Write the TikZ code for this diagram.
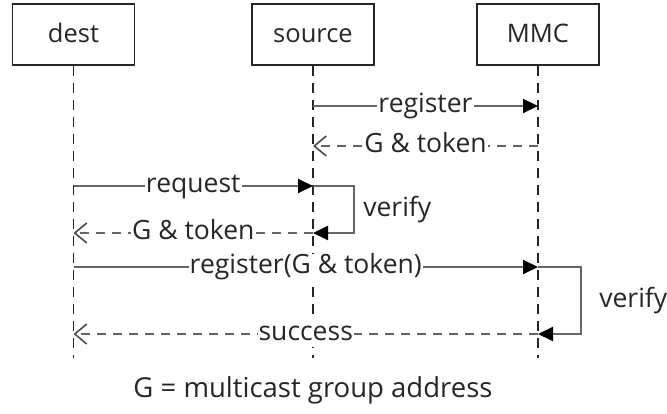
\documentclass[tikz,border=0pt]{standalone}
\usepackage{fontspec}
\setmainfont{Open Sans}
\usepackage{xcolor}
\usetikzlibrary{positioning}
\usetikzlibrary{arrows.meta}

\begin{document}
\begin{tikzpicture}[
      x=1pt, y=-1pt,
      type-actor/.style={rectangle, draw=black!85, line width=1.5pt, minimum width=122pt, minimum height=61pt, text=black!85, text height=17pt, text depth=0pt, font=\fontsize{25.5}{28}\selectfont},
      type-life/.style={draw=black!85, line width=1.4pt, dash pattern=on 10pt off 7pt},
      type-call/.style={draw=black!60, line width=2pt, -{Triangle[length=15pt,width=14pt,color=black]}},
      type-reply/.style={draw=black!60, line width=1.6pt, dash pattern=on 9pt off 7pt, -{Straight Barb[length=12pt,width=20pt,color=black!70]}},
      type-label/.style={fill=white, inner xsep=1pt, inner ysep=0.5pt, text=black!85, text height=19.5pt, text depth=5.5pt, font=\fontsize{26.5}{30}\selectfont},
      type-note/.style={text=black!85, font=\fontsize{26.5}{30}\selectfont}
    ]
      \useasboundingbox (0,0) rectangle (667,414);

      % actors and lifelines
      \node[type-actor] (dest) at (73.5,34.5) {dest};
      \node[type-actor] (source) at (313,34.5) {source};
      \node[type-actor] (mmc) at (538,34.5) {MMC};
      \coordinate (dest-end) at (dest |- 0,358);
      \coordinate (source-end) at (source |- 0,358);
      \coordinate (mmc-end) at (mmc |- 0,358);
      \draw[type-life] (dest) -- (dest-end);
      \draw[type-life] (source) -- (source-end);
      \draw[type-life] (mmc) -- (mmc-end);

      % message ends
      \coordinate (reg-s) at (source |- 0,106);
      \coordinate (reg-m) at (mmc |- 0,106);
      \coordinate (tok-m) at (mmc |- 0,146);
      \coordinate (tok-s) at (source |- 0,146);
      \coordinate (req-d) at (dest |- 0,186);
      \coordinate (req-s) at (source |- 0,186);
      \coordinate (ans-s) at (source |- 0,233);
      \coordinate (ans-d) at (dest |- 0,233);
      \coordinate (gt-d) at (dest |- 0,267);
      \coordinate (gt-m) at (mmc |- 0,267);
      \coordinate (ok-m) at (mmc |- 0,334);
      \coordinate (ok-d) at (dest |- 0,334);

      % messages
      \draw[type-call] (reg-s) -- node[type-label] (reg-lbl) {register} (reg-m);
      \draw[type-reply] (tok-m) -- node[type-label] (tok-lbl) {G \& token} (tok-s);
      \draw[type-call] (req-d) -- node[type-label] (req-lbl) {request} (req-s);
      \draw[type-call] (req-s) -- ++(41,0) |- node[pos=0.25, right=5pt, type-note] (verify1) {verify} (ans-s);
      \draw[type-reply] (ans-s) -- node[type-label] (ans-lbl) {G \& token} (ans-d);
      \draw[type-call] (gt-d) -- node[type-label] (gt-lbl) {register(G \& token)} (gt-m);
      \draw[type-call] (gt-m) -- ++(43,0) |- node[pos=0.25, right=14pt, type-note] (verify2) {verify} (ok-m);
      \draw[type-reply] (ok-m) -- node[type-label] (ok-lbl) {success} (ok-d);

      \node[type-note, font=\fontsize{27.5}{31}\selectfont] (legend) at (313,390) {G = multicast group address};
    \end{tikzpicture}
\end{document}
